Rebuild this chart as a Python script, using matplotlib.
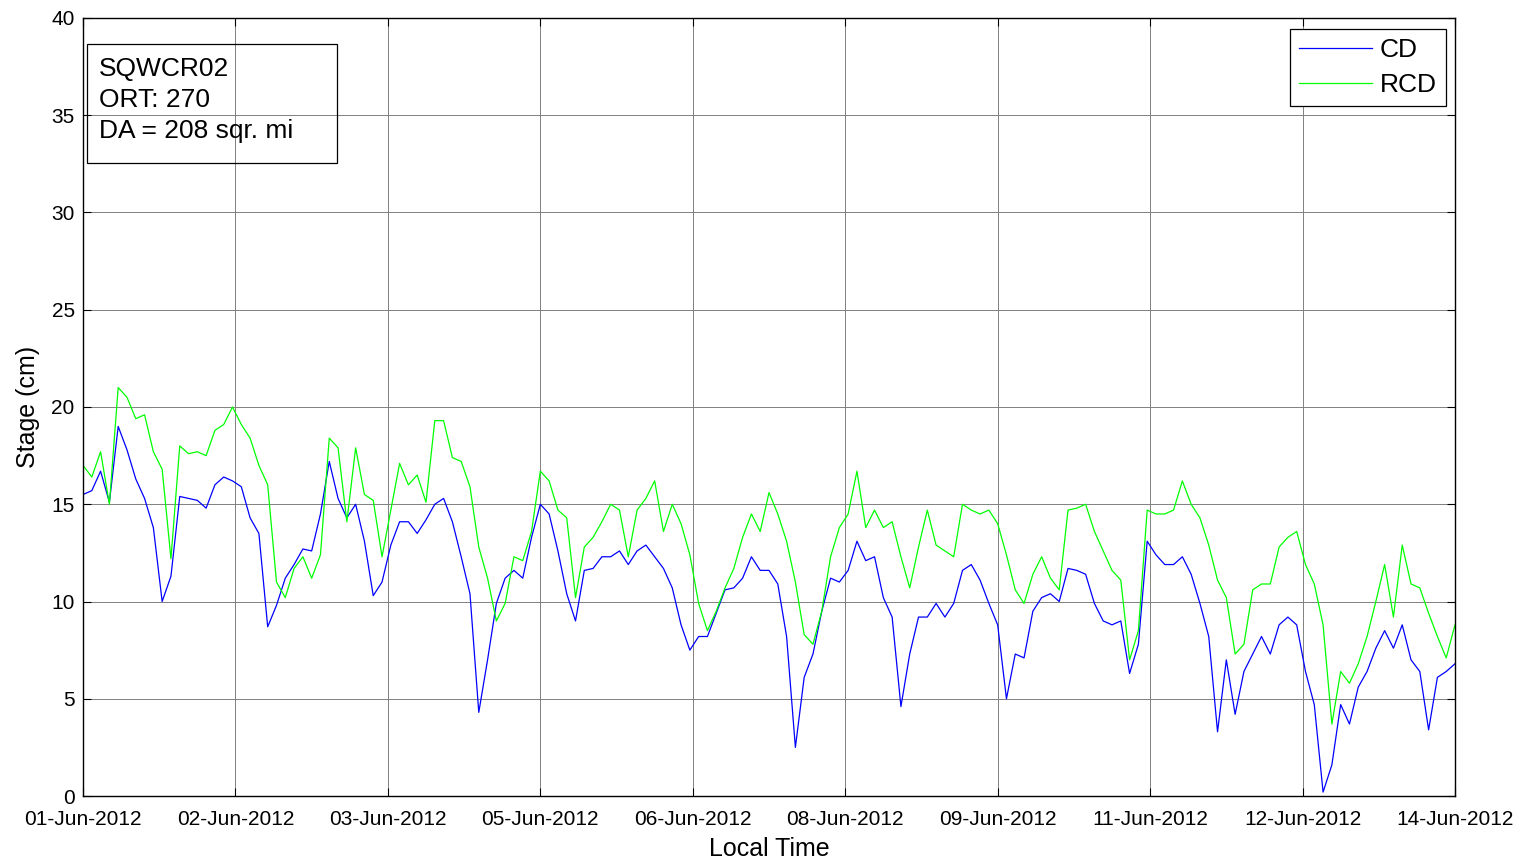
import numpy as np
import pandas as pd
import matplotlib
matplotlib.use("Agg")
import matplotlib.pyplot as plt
import matplotlib.dates as mdates
from matplotlib.patches import Rectangle

plt.rcParams["font.family"] = ["Liberation Sans", "DejaVu Sans"]

# 2-hourly readings from 01-Jun-2012 00:00 to 14-Jun-2012 00:00
start = "2012-06-01 00:00"
step_hours = 2

cd_stage = [
    15.5, 15.7, 16.7, 15.1, 19.0, 17.8, 16.3, 15.3, 13.8, 10.0,
    11.3, 15.4, 15.3, 15.2, 14.8, 16.0, 16.4, 16.2, 15.9, 14.3,
    13.5, 8.7, 9.8, 11.2, 11.9, 12.7, 12.6, 14.5, 17.2, 15.3,
    14.3, 15.0, 13.1, 10.3, 11.0, 12.9, 14.1, 14.1, 13.5, 14.2,
    15.0, 15.3, 14.1, 12.3, 10.4, 4.3, 7.0, 9.9, 11.2, 11.6,
    11.2, 13.3, 15.0, 14.5, 12.6, 10.4, 9.0, 11.6, 11.7,
    12.3, 12.3, 12.6, 11.9, 12.6, 12.9, 12.3, 11.7, 10.7, 8.8,
    7.5, 8.2, 8.2, 9.4, 10.6, 10.7, 11.2, 12.3, 11.6, 11.6,
    10.9, 8.2, 2.5, 6.1, 7.3, 9.5, 11.2, 11.0, 11.6, 13.1,
    12.1, 12.3, 10.2, 9.2, 4.6, 7.3, 9.2, 9.2, 9.9,
    9.2, 9.9, 11.6, 11.9, 11.1, 9.9, 8.8, 5.0, 7.3, 7.1,
    9.5, 10.2, 10.4, 10.0, 11.7, 11.6, 11.4, 9.9, 9.0, 8.8,
    9.0, 6.3, 7.8, 13.1, 12.4, 11.9, 11.9, 12.3, 11.4, 9.9,
    8.2, 3.3, 7.0, 4.2, 6.4, 7.3, 8.2, 7.3, 8.8,
    9.2, 8.8, 6.4, 4.7, 0.2, 1.6, 4.7, 3.7, 5.6, 6.4,
    7.6, 8.5, 7.6, 8.8, 7.0, 6.4, 3.4, 6.1, 6.4, 6.8,
]

rcd_stage = [
    17.0, 16.4, 17.7, 15.0, 21.0, 20.5, 19.4, 19.6, 17.7, 16.8,
    12.2, 18.0, 17.6, 17.7, 17.5, 18.8, 19.1, 20.0, 19.1, 18.4,
    17.0, 16.0, 11.0, 10.2, 11.7, 12.3, 11.2, 12.4, 18.4, 17.9,
    14.1, 17.9, 15.5, 15.2, 12.3, 14.7, 17.1, 16.0, 16.5, 15.1,
    19.3, 19.3, 17.4, 17.2, 15.9, 12.8, 11.2, 9.0, 9.9, 12.3,
    12.1, 13.6, 16.7, 16.2, 14.7, 14.3, 10.2, 12.8, 13.3,
    14.1, 15.0, 14.7, 12.3, 14.7, 15.3, 16.2, 13.6, 15.0, 14.0,
    12.4, 9.9, 8.5, 9.5, 10.7, 11.7, 13.3, 14.5, 13.6, 15.6,
    14.5, 13.1, 11.0, 8.3, 7.8, 9.5, 12.3, 13.8, 14.5, 16.7,
    13.8, 14.7, 13.8, 14.1, 12.3, 10.7, 12.8, 14.7, 12.9,
    12.6, 12.3, 15.0, 14.7, 14.5, 14.7, 14.0, 12.4, 10.6, 9.9,
    11.4, 12.3, 11.2, 10.6, 14.7, 14.8, 15.0, 13.6, 12.6, 11.6,
    11.1, 7.0, 8.5, 14.7, 14.5, 14.5, 14.7, 16.2, 15.0, 14.3,
    12.9, 11.1, 10.2, 7.3, 7.8, 10.6, 10.9, 10.9, 12.8,
    13.3, 13.6, 11.9, 10.9, 8.8, 3.7, 6.4, 5.8, 6.8, 8.2,
    10.0, 11.9, 9.2, 12.9, 10.9, 10.7, 9.4, 8.2, 7.1, 8.8,
]

box_lines = ["SQWCR02", "ORT: 270", "DA = 208 sqr. mi"]

times = pd.date_range(start, periods=len(cd_stage), freq=f"{step_hours}h")

W, H = 1526, 864
fig = plt.figure(figsize=(W / 100, H / 100), dpi=100)
ax = fig.add_axes([83 / W, 1 - 796 / H, (1455 - 83) / W, (796 - 18) / H])

ax.plot(times, cd_stage, color=(0, 0, 1), lw=0.9, label="CD")
ax.plot(times, rcd_stage, color=(0, 1, 0), lw=0.9, label="RCD")

x0 = mdates.date2num(pd.Timestamp("2012-06-01"))
x1 = mdates.date2num(pd.Timestamp("2012-06-14"))
ax.set_xlim(x0, x1)
ax.set_ylim(0, 40)
ax.set_xticks(np.linspace(x0, x1, 10))
ax.xaxis.set_major_formatter(mdates.DateFormatter("%d-%b-%Y"))
ax.set_yticks(np.arange(0, 41, 5))

ax.grid(True, color="#808080", lw=0.7)
ax.tick_params(direction="in", top=True, right=True, length=6, width=0.8,
               labelsize=15)
ax.tick_params(axis="x", pad=10)
ax.tick_params(axis="y", pad=6)
for s in ax.spines.values():
    s.set_linewidth(1.0)

ax.set_xlabel("Local Time", fontsize=18, labelpad=6)
ax.set_ylabel("Stage (cm)", fontsize=18, labelpad=8)

# info box
ax.add_patch(Rectangle((4 / 1372, (796 - 163) / 778), 250 / 1372, 119 / 778,
                       transform=ax.transAxes, fill=False, edgecolor="black",
                       lw=0.9, zorder=5))
ax.text(16 / 1372, (796 - 57) / 778, "\n".join(box_lines), transform=ax.transAxes,
        fontsize=19, va="top", ha="left", linespacing=1.36, zorder=6)

leg = ax.legend(loc="upper right", bbox_to_anchor=(1 - 9 / 1372, 1 - 11 / 778),
                fontsize=19, frameon=True, fancybox=False, edgecolor="black",
                framealpha=1, borderpad=0.35, borderaxespad=0, labelspacing=0.4,
                handlelength=2.75, handletextpad=0.3)
leg.get_frame().set_linewidth(0.9)

fig.savefig("out.png", dpi=100)
